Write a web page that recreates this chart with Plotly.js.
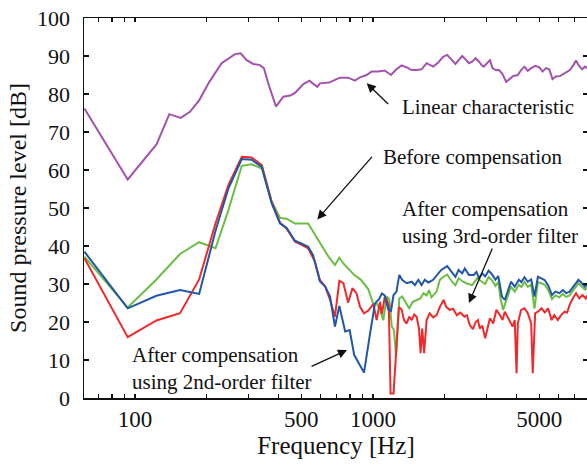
<!DOCTYPE html>
<html>
<head>
<meta charset="utf-8">
<script src="https://cdn.plot.ly/plotly-3.0.1.min.js"></script>
<style>
html,body{margin:0;padding:0;overflow:hidden;background:#fff;}
#chart{width:589px;height:465px;}
</style>
</head>
<body>
<div id="chart"></div>
<script>
// ---- Data (frequency in Hz, level in dB) ----
const linearFreq = [61.3,93.2,123.3,139.4,155.6,170.2,186.3,205.3,231.2,263,278,294.5,314,335,348,363,391,420,449,470,510,541,558,584,598,655,692,726,786,840,882,940,986,1050,1120,1190,1255,1320,1385,1455,1525,1600,1680,1790,1875,1970,2050,2150,2220,2290,2370,2450,2530,2610,2700,2790,2860,2920,3020,3100,3180,3275,3380,3490,3630,3750,3870,4060,4190,4330,4470,4620,4810,5000,5160,5330,5500,5680,5870,6100,6300,6570,6720,6950,7130,7310,7560,7780,7950];
const linearDb = [76.2,57.5,66.8,74.7,73.7,75.3,78.4,83.2,88.1,90.5,90.7,88.9,87.9,87.6,86.8,82.8,76.7,79.3,79.6,80.3,82.6,83.5,82.8,81.9,82.8,83.0,83.7,84.3,84.3,83.5,84.4,85.0,85.9,85.9,86.2,85.0,86.5,87.5,87.0,86.3,86.3,86.5,88.1,87.2,88.2,89.8,90.3,88.9,87.9,88.9,90.0,89.1,88.1,88.5,89.4,88.5,87.6,87.2,88.2,88.9,86.8,86.3,86.3,85.4,83.2,83.9,84.7,85.0,86.3,87.2,86.1,86.8,87.4,87.0,85.9,86.8,86.5,83.9,84.6,84.7,85.3,85.9,86.3,87.6,88.8,87.6,86.5,87.2,86.8];

const beforeFreq = [61.3,93.2,123,154.6,186,218,247,281,309,341,375,407,433,470,534,598,650,692,722,751,834,890,956,1003,1036,1070,1105,1142,1170,1200,1225,1250,1275,1290,1325,1385,1420,1470,1525,1580,1630,1680,1720,1760,1850,1910,1980,2050,2150,2220,2290,2390,2470,2610,2740,2880,2960,3060,3160,3270,3360,3440,3520,3620,3800,3940,4100,4200,4330,4470,4620,4770,4930,5100,5270,5440,5650,5840,6070,6270,6480,6700,6950,7300,7540,7780,7950];
const beforeDb = [37.2,23.8,31.2,37.9,41.0,39.4,49.5,61.1,61.5,60.4,51.7,47.4,47.2,45.9,45.9,40.8,37.2,35.0,36.9,35.4,32.4,31.1,28.6,24.7,24.9,23.2,20.5,26.7,26.0,18.8,17.9,10.9,22.3,26.2,26.7,24.5,23.6,25.3,25.8,26.2,27.6,27.0,28.4,26.5,28.0,31.1,31.9,32.5,30.6,29.7,31.5,30.6,30.2,29.7,31.5,30.5,30.0,31.8,31.0,29.5,30.5,26.0,23.2,25.5,29.3,28.0,29.8,29.2,30.5,29.3,29.8,23.5,30.5,30.2,29.8,28.5,26.0,27.0,26.5,27.4,26.6,27.0,28.3,30.2,29.3,28.5,29.0];

const thirdFreq = [61.3,93.2,123,154.6,186,218,247,281,309,341,375,407,433,470,502,534,570,598,630,660,692,722,751,786,820,852,882,917,956,1003,1036,1070,1090,1121,1142,1165,1185,1220,1250,1285,1320,1350,1385,1420,1455,1490,1525,1560,1585,1610,1640,1680,1730,1790,1850,1910,1980,2030,2100,2170,2250,2330,2420,2480,2550,2630,2700,2760,2810,2880,2960,3010,3100,3200,3300,3420,3500,3580,3700,3860,3940,4010,4060,4190,4330,4470,4620,4690,4800,4950,5100,5270,5440,5630,5780,5980,6170,6380,6540,6700,6910,7130,7360,7590,7830,7950];
const thirdDb = [36.8,16.0,20.4,22.3,31.2,46.0,56.1,63.5,63.3,61.3,51.7,46.1,44.6,41.1,40.3,39.4,35.9,31.1,29.3,25.8,21.4,30.8,30.2,25.1,28.9,27.6,24.0,22.3,23.0,24.7,20.5,25.3,22.1,26.7,25.8,24.5,1.2,1.2,11.8,24.0,23.2,20.5,19.6,21.4,20.5,22.0,21.4,18.3,11.8,18.3,11.8,20.5,22.3,21.2,21.8,24.0,25.8,24.0,23.2,23.5,21.8,22.5,21.4,21.8,19.2,18.1,20.0,20.5,18.3,19.0,15.7,17.9,21.0,19.6,23.2,21.8,20.5,22.7,21.0,18.8,20.5,6.5,19.6,23.2,23.6,22.3,19.6,6.5,22.3,22.8,23.6,22.5,23.6,20.5,21.8,20.5,21.8,22.7,22.5,24.5,26.2,27.6,26.2,27.1,26.2,27.0];

const secondFreq = [61.3,93.2,123,154.6,186,218,247,281,309,341,375,407,433,470,502,534,560,598,630,660,692,722,764,798,834,917,967,1019,1060,1090,1120,1160,1190,1220,1255,1290,1325,1385,1455,1500,1550,1600,1650,1710,1790,1875,1935,2050,2150,2220,2290,2370,2430,2530,2650,2720,2790,2880,2960,3060,3160,3270,3360,3480,3580,3680,3800,3940,4100,4200,4330,4470,4620,4770,4930,5100,5270,5440,5650,5840,6070,6270,6480,6700,6950,7300,7540,7780,7950];
const secondDb = [38.5,23.6,26.9,28.4,27.4,44.0,55.2,62.9,62.7,60.8,51.3,45.9,44.8,41.4,40.6,39.8,37.6,30.7,29.3,26.7,18.8,24.2,17.5,17.9,11.3,6.7,16.1,24.9,26.0,27.5,27.0,23.2,22.9,27.1,28.0,32.4,31.1,30.2,30.6,29.7,31.1,29.7,31.1,30.4,31.1,32.8,33.7,34.7,33.2,31.9,33.7,32.8,34.1,32.4,32.4,33.2,31.5,32.8,32.0,33.5,32.6,31.1,32.1,26.7,25.8,28.0,30.6,29.3,31.1,30.5,31.8,30.6,31.2,26.7,31.9,31.5,31.0,29.7,27.1,28.0,27.6,28.4,27.6,28.0,29.3,31.1,30.2,29.3,30.0];

const xTickVals = [70,80,90,100,200,300,400,500,600,700,800,900,1000,2000,3000,4000,5000,6000,7000];
const xTickText = ['','','','100','','','','500','','','','','1000','','','','5000','',''];
const yTickVals = [0,10,20,30,40,50,60,70,80,90,100];

const FONT = 'Liberation Serif, Times New Roman, serif';
const L = Math.log10;

const traces = [
  {x: linearFreq, y: linearDb, mode:'lines', line:{color:'#a352ad', width:2}, name:'Linear'},
  {x: beforeFreq, y: beforeDb, mode:'lines', line:{color:'#6cbd45', width:2}, name:'Before'},
  {x: thirdFreq, y: thirdDb, mode:'lines', line:{color:'#ee2a2a', width:2}, name:'3rd'},
  {x: secondFreq, y: secondDb, mode:'lines', line:{color:'#2156a8', width:2}, name:'2nd'}
];

function label(txt, f, db){
  return {text: txt, x: L(f), y: db, xref:'x', yref:'y', xanchor:'left', yanchor:'middle', align:'left',
          showarrow:false, font:{family:FONT, size:21, color:'#111'}};
}
function arrow(f, db, ax, ay){
  return {text:'', x: L(f), y: db, xref:'x', yref:'y', showarrow:true, ax: ax, ay: ay,
          arrowhead:2, arrowsize:1.4, arrowwidth:1.3, arrowcolor:'#111', standoff:0, startstandoff:0};
}

const layout = {
  width: 589, height: 465,
  margin: {l: 84, r: 1, t: 18, b: 67},
  paper_bgcolor:'#fff', plot_bgcolor:'#fff',
  showlegend: false,
  font: {family: FONT, color:'#111'},
  xaxis: {
    type:'log', range:[1.7857, 3.9034],
    tickvals: xTickVals, ticktext: xTickText,
    ticks:'inside', ticklen:4, tickwidth:1.2, tickcolor:'#111',
    showline:true, linecolor:'#111', linewidth:1.5, mirror:'ticks',
    showgrid:false, zeroline:false,
    tickfont:{family:FONT, size:23, color:'#111'},
    title:{text:'Frequency [Hz]', font:{family:FONT, size:25, color:'#111'}, standoff:2},
    automargin:false
  },
  yaxis: {
    range:[0,100], tickvals: yTickVals,
    ticks:'inside', ticklen:5, tickwidth:1.2, tickcolor:'#111',
    showline:true, linecolor:'#111', linewidth:1.5, mirror:'ticks',
    showgrid:false, zeroline:false,
    tickfont:{family:FONT, size:22, color:'#111'},
    ticklabelstandoff: 8,
    title:{text:'Sound pressure level [dB]', font:{family:FONT, size:24, color:'#111'}, standoff:3},
    automargin:false
  },
  annotations: [
    label('Linear characteristic', 1296, 76.6),
    arrow(941, 82.8, 23, 22),
    label('Before compensation', 1076, 63.4),
    arrow(583, 47.0, 56, -64),
    label('After compensation<br>using 3rd-order filter', 1296, 46.3),
    arrow(2530, 25.0, 24, -56),
    label('After compensation<br>using 2nd-order filter', 95.3, 7.8),
    arrow(778, 12.6, -37, 17)
  ]
};

Plotly.newPlot('chart', traces, layout, {staticPlot:true, displayModeBar:false});
</script>
</body>
</html>
